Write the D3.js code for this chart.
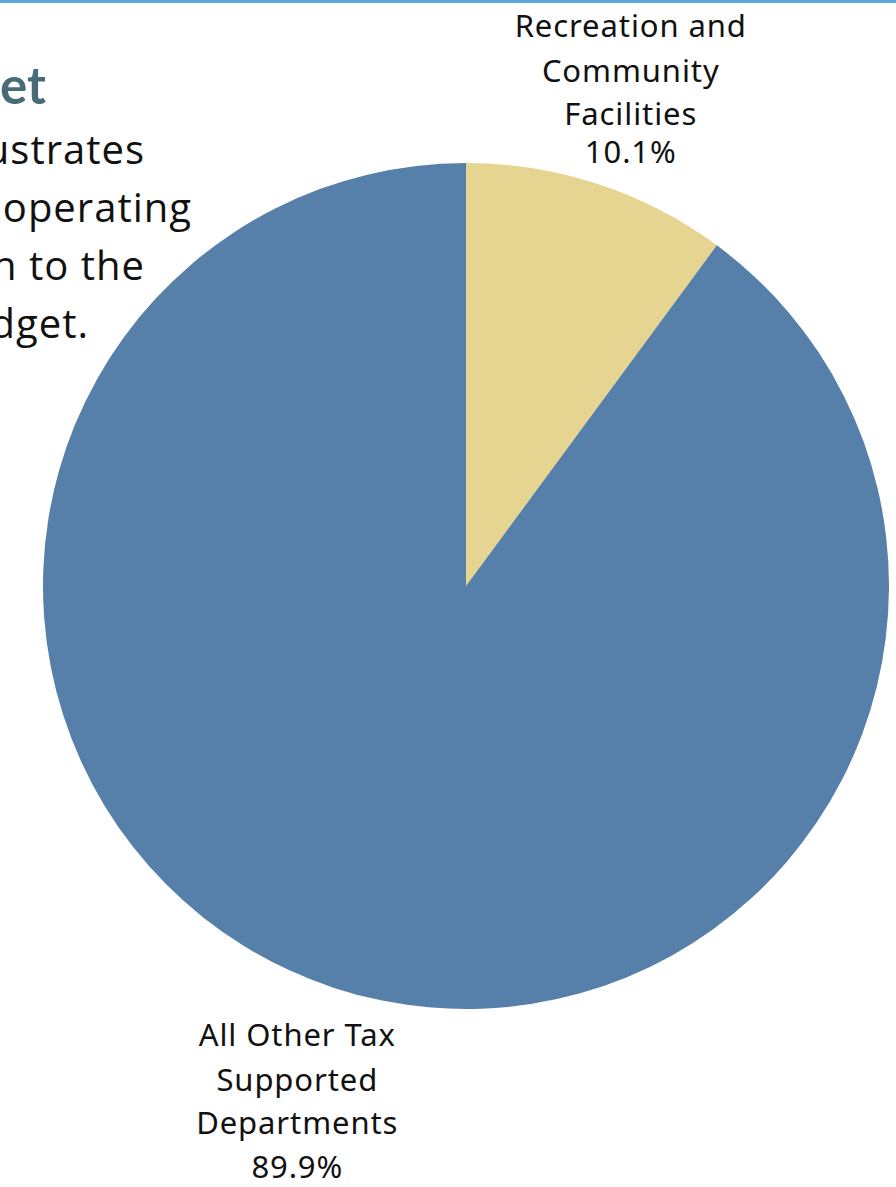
<!DOCTYPE html>
<html>
<head>
<meta charset="utf-8">
<script src="https://cdn.jsdelivr.net/npm/d3@7"></script>
<style>
  html, body { margin: 0; padding: 0; background: #ffffff; }
  svg { display: block; }
</style>
</head>
<body>
<script>
// Share of the tax-supported operating budget
const categories = ["Recreation and Community Facilities", "All Other Tax Supported Departments"];
const labelLines = [["Recreation and", "Community", "Facilities"], ["All Other Tax", "Supported", "Departments"]];
const shares = [10.1, 89.9];
const colors = ["#e6d590", "#5680a9"];

// Intro copy (right-hand end of the page text that runs past the left edge)
const introTitle = "et";
const introLines = ["ustrates", "operating", "n to the", "dget."];

const W = 896, H = 1187;
const cx = 466, cy = 586, R = 423;

const svg = d3.select("body").append("svg")
  .attr("width", W).attr("height", H);

// top rule
svg.append("rect").attr("x", 0).attr("y", 0).attr("width", W).attr("height", 3)
  .attr("fill", "#5aa7dc");

// heading and paragraph
svg.append("text")
  .attr("x", 46).attr("y", 104)
  .attr("text-anchor", "end")
  .attr("font-family", "Lato, 'Open Sans', sans-serif")
  .attr("font-weight", 700)
  .attr("font-size", 51)
  .attr("fill", "#476b77")
  .text(introTitle);

const introRight = [145, 192, 145, 89];
svg.append("g").selectAll("text")
  .data(introLines)
  .join("text")
  .attr("x", (d, i) => introRight[i])
  .attr("y", (d, i) => 164 + i * 58)
  .attr("text-anchor", "end")
  .attr("font-family", "'Open Sans', sans-serif")
  .attr("font-size", 40)
  .attr("letter-spacing", 1)
  .attr("fill", "#111111")
  .text(d => d);

// pie
const pie = d3.pie().sort(null).value(d => d.value);
const arcs = pie(categories.map((c, i) => ({ name: c, value: shares[i], lines: labelLines[i], color: colors[i] })));
const arc = d3.arc().innerRadius(0).outerRadius(R);
const labelArc = d3.arc().innerRadius(528).outerRadius(528);

const g = svg.append("g").attr("transform", `translate(${cx},${cy})`);
g.selectAll("path")
  .data(arcs)
  .join("path")
  .attr("d", arc)
  .attr("fill", d => d.data.color);

// labels: name lines then the share, stacked around the outer centroid
const firstBaseline = [-47, -42];
const rowGaps = [[45, 43, 38], [45, 43, 44]];
const lbl = g.selectAll("g.lbl")
  .data(arcs)
  .join("g")
  .attr("class", "lbl")
  .attr("transform", d => {
    const [x, y] = labelArc.centroid(d);
    return `translate(${x},${y})`;
  });

lbl.each(function (d, k) {
  const rows = d.data.lines.concat([d3.format(".1f")(d.data.value) + "%"]);
  const t = d3.select(this).append("text")
    .attr("text-anchor", "middle")
    .attr("font-family", "'Noto Sans', 'Open Sans', sans-serif")
    .attr("font-size", 31)
    .attr("letter-spacing", 0.9)
    .attr("fill", "#111111");
  let y = firstBaseline[k];
  rows.forEach((r, i) => {
    if (i > 0) y += rowGaps[k][i - 1];
    t.append("tspan")
      .attr("x", k === 1 ? -4 : 0)
      .attr("y", y)
      .text(r);
  });
});
</script>
</body>
</html>
